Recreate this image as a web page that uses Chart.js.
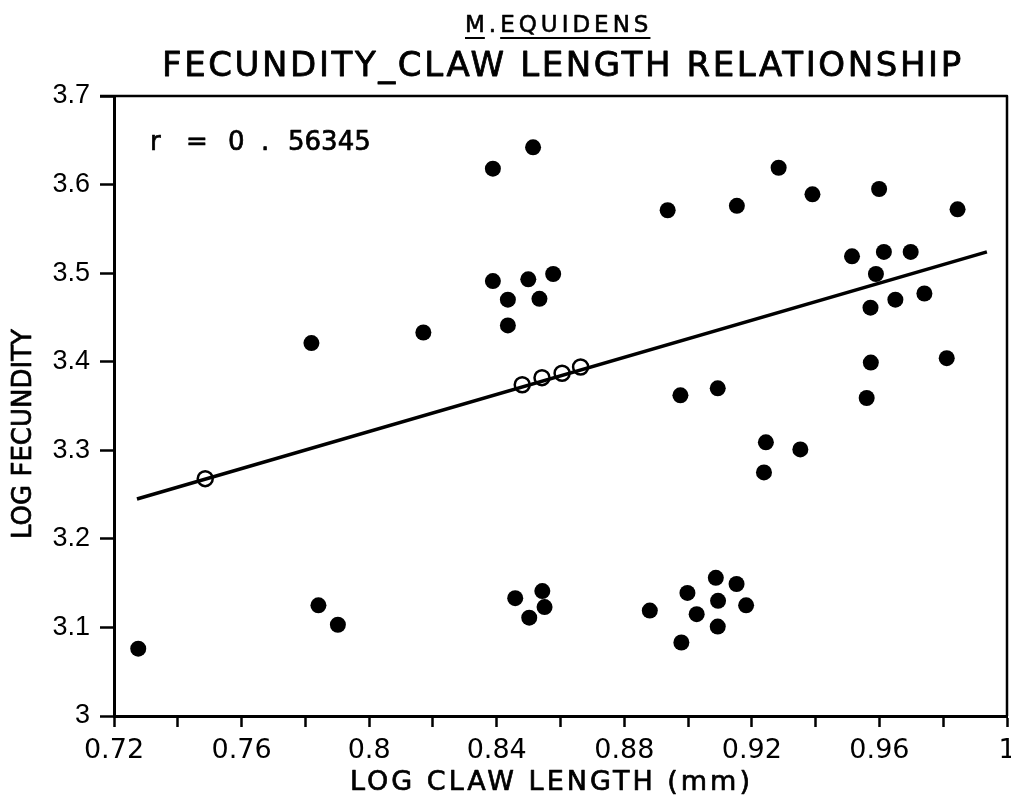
<!DOCTYPE html>
<html>
<head>
<meta charset="utf-8">
<title>M. equidens fecundity - claw length</title>
<script src="https://cdn.jsdelivr.net/npm/chart.js@4.4.1/dist/chart.umd.min.js"></script>
<style>
  html, body { margin: 0; padding: 0; background: #fff; }
  #wrap { width: 1011px; height: 800px; }
</style>
</head>
<body>
<div id="wrap"><canvas id="chart" width="1011" height="800"></canvas></div>
<script>
// filled dots: log claw length / log fecundity
const dotX = [0.7819, 0.817, 0.8388, 0.8514, 0.8388, 0.8499, 0.8577, 0.8435, 0.8534, 0.8435,
              0.8936, 0.9153, 0.9284, 0.939, 0.9599, 0.9845, 0.9514, 0.9614, 0.9698, 0.9589,
              0.9572, 0.965, 0.9741, 0.9573, 0.9811, 0.956, 0.8976, 0.9093, 0.9244, 0.9352,
              0.9238, 0.7276, 0.7841, 0.7902, 0.8458, 0.8543, 0.855, 0.8502, 0.888, 0.8998,
              0.9087, 0.9152, 0.9094, 0.9182, 0.9027, 0.9093, 0.8979];
const dotY = [3.421, 3.433, 3.618, 3.642, 3.491, 3.493, 3.499, 3.470, 3.471, 3.441,
              3.571, 3.576, 3.619, 3.589, 3.595, 3.572, 3.519, 3.524, 3.524, 3.499,
              3.461, 3.470, 3.477, 3.399, 3.404, 3.359, 3.362, 3.370, 3.309, 3.301,
              3.275, 3.076, 3.125, 3.103, 3.133, 3.141, 3.123, 3.111, 3.119, 3.139,
              3.156, 3.149, 3.130, 3.125, 3.115, 3.101, 3.083];

// open circles sitting on the regression line
const ringX = [0.7486, 0.848, 0.8542, 0.8605, 0.8663];
const ringY = [3.268, 3.374, 3.382, 3.387, 3.394];

// regression line end points
const fitX = [0.7272, 0.9937];
const fitY = [3.245, 3.524];

const xTickLabels = ['0.72', '0.76', '0.8', '0.84', '0.88', '0.92', '0.96', '1'];
const yTickLabels = ['3', '3.1', '3.2', '3.3', '3.4', '3.5', '3.6', '3.7'];

const titleTop = 'M.EQUIDENS';
const titleMain = 'FECUNDITY_CLAW LENGTH RELATIONSHIP';
const rParts = ['r', '=', '0', '.', '56345'];
const xTitle = 'LOG CLAW LENGTH (mm)';
const yTitle = 'LOG FECUNDITY';

function toPoints(xs, ys) {
    return xs.map((x, i) => ({ x: x, y: ys[i] }));
}

// draw text a bit heavier, like the old stencil lettering
function inkText(ctx, s, x, y, w) {
    ctx.fillText(s, x, y);
    ctx.lineWidth = w;
    ctx.strokeText(s, x, y);
}

// texts, underlines and the top/right frame
const paperText = {
    id: 'paperText',
    afterDraw(chart) {
        const ctx = chart.ctx;
        const area = chart.chartArea;
        ctx.save();
        ctx.fillStyle = '#000';
        ctx.strokeStyle = '#000';
        ctx.lineJoin = 'round';
        ctx.textBaseline = 'alphabetic';
        ctx.textAlign = 'left';

        // frame top and right
        ctx.lineWidth = 2.5;
        ctx.beginPath();
        ctx.moveTo(area.left - 14, area.top);
        ctx.lineTo(area.right, area.top);
        ctx.lineTo(area.right, area.bottom);
        ctx.stroke();

        // species name with underlines
        ctx.font = '23px "DejaVu Sans"';
        ctx.letterSpacing = '4px';
        const t1x = 465;
        inkText(ctx, titleTop, t1x, 32, 0.6);
        const wM = ctx.measureText('M').width;
        const wMdot = ctx.measureText('M.').width;
        const wAll = ctx.measureText(titleTop).width;
        ctx.lineWidth = 2;
        ctx.beginPath();
        ctx.moveTo(t1x, 38);
        ctx.lineTo(t1x + wM - 4, 38);
        ctx.moveTo(t1x + wMdot, 38);
        ctx.lineTo(t1x + wAll - 2, 38);
        ctx.stroke();

        // main title
        ctx.font = '34px "DejaVu Sans"';
        ctx.letterSpacing = '2.6px';
        inkText(ctx, titleMain, 162, 76, 0.8);

        // correlation note
        ctx.font = '26px "DejaVu Sans"';
        ctx.letterSpacing = '0px';
        const rPos = [150, 186, 228, 261, 288];
        rParts.forEach((s, i) => inkText(ctx, s, rPos[i], 150, 0.7));

        // axis titles
        ctx.font = '27px "DejaVu Sans"';
        ctx.letterSpacing = '3px';
        inkText(ctx, xTitle, 350, 790, 0.7);

        ctx.font = '26px "DejaVu Sans"';
        ctx.letterSpacing = '0px';
        ctx.translate(24, 434);
        ctx.rotate(-Math.PI / 2);
        ctx.textAlign = 'center';
        ctx.textBaseline = 'middle';
        inkText(ctx, yTitle, 0, 0, 0.7);
        ctx.restore();
    }
};

const ctx = document.getElementById('chart').getContext('2d');
new Chart(ctx, {
    type: 'scatter',
    data: {
        datasets: [
            {
                label: 'fit',
                type: 'line',
                data: toPoints(fitX, fitY),
                borderColor: '#000',
                borderWidth: 3.5,
                pointRadius: 0,
                fill: false,
                showLine: true
            },
            {
                label: 'on line',
                data: toPoints(ringX, ringY),
                pointRadius: 7.5,
                backgroundColor: 'rgba(0,0,0,0)',
                borderColor: '#000',
                borderWidth: 2.5
            },
            {
                label: 'samples',
                data: toPoints(dotX, dotY),
                pointRadius: 8,
                backgroundColor: '#000',
                borderColor: '#000',
                borderWidth: 0
            }
        ]
    },
    options: {
        responsive: false,
        animation: false,
        events: [],
        layout: { autoPadding: false, padding: { top: 96, right: 4, left: 0, bottom: 0 } },
        plugins: {
            legend: { display: false },
            tooltip: { enabled: false },
            title: { display: false }
        },
        scales: {
            x: {
                type: 'linear',
                min: 0.72,
                max: 1.0,
                border: { display: true, color: '#000', width: 3 },
                grid: {
                    drawOnChartArea: false,
                    drawTicks: true,
                    tickLength: 11,
                    tickWidth: 2.5,
                    tickColor: '#000',
                    color: '#000'
                },
                ticks: {
                    stepSize: 0.02,
                    autoSkip: false,
                    maxRotation: 0,
                    padding: 8,
                    color: '#000',
                    font: { family: 'DejaVu Sans', size: 27 },
                    callback: function(value) {
                        const idx = Math.round((value - 0.72) / 0.02);
                        return idx % 2 === 0 ? xTickLabels[idx / 2] : '';
                    }
                },
                afterFit: function(scale) {
                    scale.height = 84;
                    scale.paddingLeft = 0;
                    scale.paddingRight = 0;
                }
            },
            y: {
                type: 'linear',
                min: 3,
                max: 3.7,
                border: { display: true, color: '#000', width: 3 },
                grid: {
                    drawOnChartArea: false,
                    drawTicks: true,
                    tickLength: 14,
                    tickWidth: 2.5,
                    tickColor: '#000',
                    color: '#000'
                },
                ticks: {
                    stepSize: 0.1,
                    autoSkip: false,
                    padding: 10,
                    color: '#000',
                    font: { family: 'Liberation Sans', size: 27 },
                    callback: function(value) {
                        const idx = Math.round((value - 3) / 0.1);
                        return yTickLabels[idx];
                    }
                },
                afterFit: function(scale) {
                    scale.width = 114;
                }
            }
        }
    },
    plugins: [paperText]
});
</script>
</body>
</html>
